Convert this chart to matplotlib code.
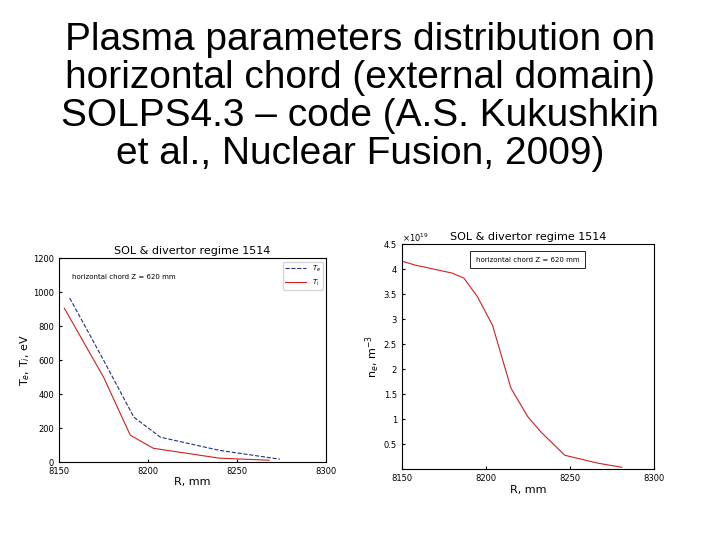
import matplotlib
matplotlib.use('Agg')
import matplotlib.pyplot as plt

# left panel: temperatures
r_te = [8156, 8175, 8192, 8207, 8240, 8274]
te = [965, 600, 265, 147, 70, 18]
r_ti = [8153, 8175, 8190, 8203, 8240, 8268]
ti = [905, 500, 159, 82, 24, 12]

# right panel: density (x 1e19)
r_ne = [8151, 8158, 8180, 8187, 8195, 8204, 8215, 8225, 8233, 8247, 8267, 8281]
ne = [4.15, 4.08, 3.92, 3.82, 3.45, 2.88, 1.62, 1.05, 0.74, 0.28, 0.12, 0.04]

fig = plt.figure(figsize=(7.2, 5.4), dpi=100)
fig.text(0.5, 0.96, "Plasma parameters distribution on\nhorizontal chord (external domain)\n"
         "SOLPS4.3 – code (A.S. Kukushkin\net al., Nuclear Fusion, 2009)",
         ha='center', va='top', fontsize=28, family='Liberation Sans', linespacing=1.08)

ax1 = fig.add_axes([0.082, 0.144, 0.371, 0.378])
ax1.plot(r_te, te, '--', color='#203080', lw=0.8, label='$T_e$')
ax1.plot(r_ti, ti, '-', color='#d02020', lw=0.8, label='$T_i$')
ax1.set_xlim(8150, 8300)
ax1.set_ylim(0, 1200)
ax1.set_xticks([8150, 8200, 8250, 8300])
ax1.set_yticks(range(0, 1201, 200))
ax1.tick_params(labelsize=6, direction='in', length=2)
ax1.set_title('SOL & divertor regime 1514', fontsize=8, pad=3)
ax1.set_xlabel('R, mm', fontsize=8, labelpad=1)
ax1.set_ylabel('T$_e$, T$_i$, eV', fontsize=8, labelpad=1)
ax1.text(0.05, 0.9, 'horizontal chord Z = 620 mm', transform=ax1.transAxes, fontsize=5)
ax1.legend(fontsize=5, loc='upper right', frameon=True, handlelength=3, borderpad=0.3)

ax2 = fig.add_axes([0.558, 0.131, 0.35, 0.417])
ax2.plot(r_ne, ne, color='#d02020', lw=0.8)
ax2.set_xlim(8150, 8300)
ax2.set_ylim(0, 4.5)
ax2.set_xticks([8150, 8200, 8250, 8300])
ax2.set_yticks([0, 0.5, 1, 1.5, 2, 2.5, 3, 3.5, 4, 4.5])
ax2.set_yticklabels(['', '0.5', '1', '1.5', '2', '2.5', '3', '3.5', '4', '4.5'])
ax2.tick_params(labelsize=6, direction='in', length=2)
ax2.text(0.0, 1.01, r'$\times10^{19}$', transform=ax2.transAxes, fontsize=6)
ax2.set_title('SOL & divertor regime 1514', fontsize=8, pad=3)
ax2.set_xlabel('R, mm', fontsize=8, labelpad=1)
ax2.set_ylabel('n$_e$, m$^{-3}$', fontsize=8, labelpad=1)
ax2.text(0.5, 0.93, 'horizontal chord Z = 620 mm', transform=ax2.transAxes, fontsize=5,
         ha='center', va='center', bbox=dict(facecolor='white', edgecolor='black', lw=0.6))

fig.savefig('out.png', dpi=100)
